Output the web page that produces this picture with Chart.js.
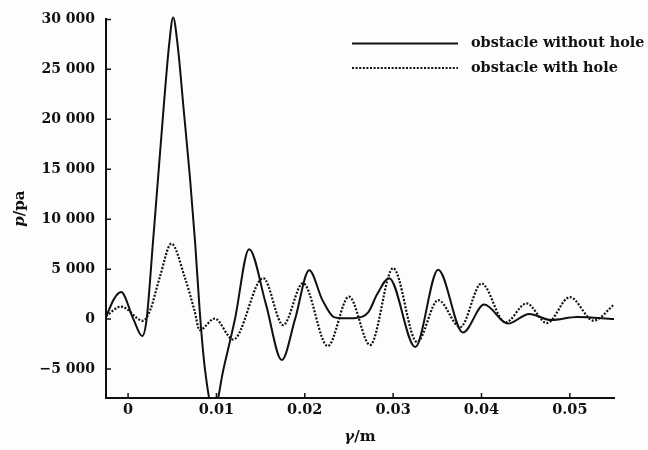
<!DOCTYPE html>
<html>
<head>
<meta charset="utf-8">
<script src="https://cdn.jsdelivr.net/npm/chart.js@4/dist/chart.umd.min.js"></script>
<style>
  html, body { margin: 0; padding: 0; background: #fdfdfd; }
  #wrap { width: 648px; height: 450px; }
</style>
</head>
<body>
<div id="wrap"><canvas id="c" width="648" height="450"></canvas></div>
<script>
// Pressure along the radial coordinate behind the obstacle
const solidX = [-0.0025, -0.0016, -0.0008, 0.0006, 0.0016, 0.0021, 0.0028, 0.0034, 0.0040, 0.00465, 0.0051,
  0.0056, 0.0063, 0.0070, 0.0076, 0.0081, 0.0087, 0.0097, 0.0108, 0.0121, 0.0137, 0.0156, 0.0174, 0.0189,
  0.0205, 0.0220, 0.0233, 0.0245, 0.0258, 0.0272, 0.0282, 0.02955, 0.0325, 0.0351, 0.0379, 0.0403, 0.0430,
  0.0454, 0.0479, 0.0508, 0.0550];
const solidP = [200, 2000, 2700, 0, -1700, 0, 7500, 14200, 20900, 27500, 30200,
  27500, 20900, 14200, 7500, 900, -5000, -9300, -5000, 0, 7000, 1500, -4100, 0,
  4900, 1900, 200, 80, 120, 700, 2500, 4100, -2800, 4950, -1350, 1450, -450,
  520, -100, 200, 0];

const dottedX = [-0.0025, -0.0008, 0.0017, 0.0025, 0.0036, 0.0049, 0.0064, 0.0075, 0.0081, 0.0098, 0.0119,
  0.0153, 0.01755, 0.0198, 0.0226, 0.0250, 0.0274, 0.0300, 0.0327, 0.0351, 0.0376, 0.0400, 0.0427, 0.0451,
  0.0474, 0.0500, 0.0527, 0.0550];
const dottedP = [300, 1250, -170, 900, 4230, 7550, 4230, 900, -1100, 50, -2050,
  4100, -600, 3600, -2700, 2250, -2600, 5100, -2300, 1900, -800, 3570, -350, 1570,
  -400, 2200, -150, 1450];

const seriesNames = ['obstacle without hole', 'obstacle with hole'];

const xTicks = [0, 0.01, 0.02, 0.03, 0.04, 0.05];
const xTickLabels = ['0', '0.01', '0.02', '0.03', '0.04', '0.05'];
const yTicks = [-5000, 0, 5000, 10000, 15000, 20000, 25000, 30000];
const yTickLabels = ['\u22125 000', '0', '5 000', '10 000', '15 000', '20 000', '25 000', '30 000'];

const FONT = '"DejaVu Serif", serif';
const INK = '#111';

const toPoints = (xs, ys) => xs.map((x, i) => ({ x, y: ys[i] }));

// Inward tick marks on the left and bottom axes
const innerTicks = {
  id: 'innerTicks',
  afterDatasetsDraw(chart) {
    const { ctx, chartArea: a, scales: { x, y } } = chart;
    ctx.save();
    ctx.strokeStyle = INK;
    ctx.lineWidth = 1.5;
    ctx.beginPath();
    xTicks.forEach(v => {
      const px = x.getPixelForValue(v);
      ctx.moveTo(px, a.bottom);
      ctx.lineTo(px, a.bottom - 5);
    });
    yTicks.forEach(v => {
      const py = y.getPixelForValue(v);
      ctx.moveTo(a.left, py);
      ctx.lineTo(a.left + 5, py);
    });
    ctx.stroke();
    ctx.restore();
  }
};

// Axis titles with italic symbols, and the line-sample legend
const annotations = {
  id: 'annotations',
  afterDraw(chart) {
    const { ctx, chartArea: a } = chart;
    ctx.save();
    ctx.fillStyle = INK;
    ctx.textBaseline = 'middle';

    // y title: "p/pa" rotated
    const yParts = [['italic bold 15px ' + FONT, 'p'], ['bold 15px ' + FONT, '/pa']];
    ctx.translate(20, (a.top + a.bottom) / 2);
    ctx.rotate(-Math.PI / 2);
    let w = 0;
    yParts.forEach(([f, t]) => { ctx.font = f; w += ctx.measureText(t).width; });
    let cx = -w / 2;
    yParts.forEach(([f, t]) => { ctx.font = f; ctx.textAlign = 'left'; ctx.fillText(t, cx, 0); cx += ctx.measureText(t).width; });
    ctx.setTransform(1, 0, 0, 1, 0, 0);

    // x title: "γ/m"
    const xParts = [['italic bold 15px ' + FONT, '\u03b3'], ['bold 15px ' + FONT, '/m']];
    w = 0;
    xParts.forEach(([f, t]) => { ctx.font = f; w += ctx.measureText(t).width; });
    cx = (a.left + a.right) / 2 - w / 2;
    xParts.forEach(([f, t]) => { ctx.font = f; ctx.textAlign = 'left'; ctx.fillText(t, cx, 437); cx += ctx.measureText(t).width; });

    // legend
    const rows = [43.5, 68];
    chart.data.datasets.forEach((ds, i) => {
      ctx.strokeStyle = ds.borderColor;
      ctx.lineWidth = ds.borderWidth;
      ctx.setLineDash(ds.borderDash || []);
      ctx.beginPath();
      ctx.moveTo(352, rows[i]);
      ctx.lineTo(458, rows[i]);
      ctx.stroke();
      ctx.setLineDash([]);
      ctx.font = 'bold 14.4px ' + FONT;
      ctx.textAlign = 'left';
      ctx.fillText(ds.label, 471, rows[i]);
    });
    ctx.restore();
  }
};

new Chart(document.getElementById('c'), {
  type: 'line',
  data: {
    datasets: [
      {
        label: seriesNames[0],
        data: toPoints(solidX, solidP),
        borderColor: INK,
        borderWidth: 2,
        pointRadius: 0,
        cubicInterpolationMode: 'monotone',
        clip: { left: 0, top: 8, right: 0, bottom: 0 }
      },
      {
        label: seriesNames[1],
        data: toPoints(dottedX, dottedP),
        borderColor: INK,
        borderWidth: 2.2,
        borderDash: [2, 1.6],
        pointRadius: 0,
        cubicInterpolationMode: 'monotone',
        clip: { left: 0, top: 8, right: 0, bottom: 0 }
      }
    ]
  },
  options: {
    responsive: false,
    animation: false,
    layout: { padding: { left: 0, right: 34, top: 19, bottom: 0 } },
    plugins: { legend: { display: false }, tooltip: { enabled: false } },
    scales: {
      x: {
        type: 'linear',
        min: -0.0025,
        max: 0.055,
        afterFit(s) { s.height = 52; },
        afterBuildTicks(s) { s.ticks = xTicks.map(v => ({ value: v })); },
        ticks: {
          color: INK,
          font: { family: FONT, size: 14.5, weight: 'bold' },
          padding: 4,
          maxRotation: 0,
          callback: (v) => xTickLabels[xTicks.indexOf(v)]
        },
        grid: { display: false, drawTicks: false },
        border: { display: true, color: INK, width: 2 }
      },
      y: {
        type: 'linear',
        min: -7900,
        max: 30000,
        afterFit(s) { s.width = 106; },
        afterBuildTicks(s) { s.ticks = yTicks.map(v => ({ value: v })); },
        ticks: {
          color: INK,
          font: { family: FONT, size: 14, weight: 'bold' },
          padding: 11,
          callback: (v) => yTickLabels[yTicks.indexOf(v)]
        },
        grid: { display: false, drawTicks: false },
        border: { display: true, color: INK, width: 2 }
      }
    }
  },
  plugins: [innerTicks, annotations]
});
</script>
</body>
</html>
